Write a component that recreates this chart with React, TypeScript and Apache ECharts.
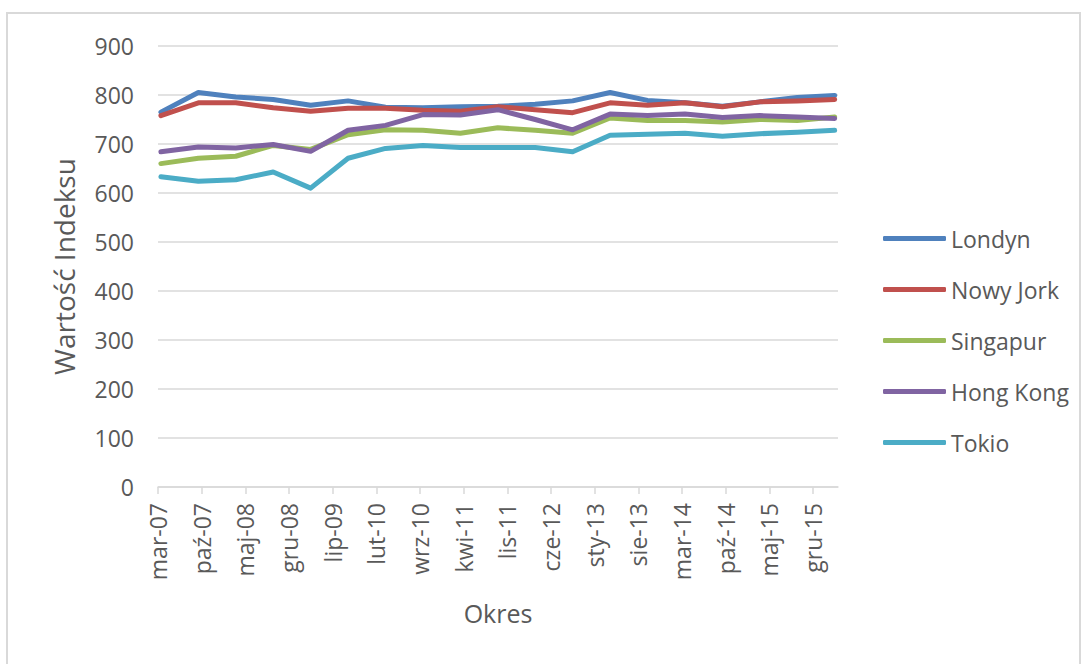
import React, { useEffect, useRef } from "react";
import * as echarts from "echarts";

// GFCI survey dates (semi-annual)
const surveyDates = [
  "2007-03-15", "2007-09-15", "2008-03-15", "2008-09-15", "2009-03-15",
  "2009-09-15", "2010-03-15", "2010-09-15", "2011-03-15", "2011-09-15",
  "2012-03-15", "2012-09-15", "2013-03-15", "2013-09-15", "2014-03-15",
  "2014-09-15", "2015-03-15", "2015-09-15", "2016-03-15",
];

const londyn = [765, 805, 796, 791, 779, 788, 775, 774, 776, 777, 781, 788, 805, 789, 784, 777, 786, 795, 799];
const nowyJork = [758, 784, 784, 774, 767, 773, 773, 769, 767, 776, 770, 764, 784, 779, 784, 776, 786, 788, 791];
const singapur = [660, 671, 675, 697, 689, 719, 729, 728, 722, 733, 728, 722, 753, 748, 748, 745, 750, 748, 755];
const hongKong = [684, 694, 692, 699, 685, 728, 738, 760, 759, 770, 750, 729, 761, 758, 761, 754, 758, 755, 752];
const tokio = [633, 624, 627, 643, 610, 671, 691, 697, 693, 693, 693, 684, 718, 720, 722, 716, 721, 724, 728];

const tickLabels = [
  "mar-07", "paź-07", "maj-08", "gru-08", "lip-09", "lut-10", "wrz-10", "kwi-11",
  "lis-11", "cze-12", "sty-13", "sie-13", "mar-14", "paź-14", "maj-15", "gru-15",
];
const tickStepMonths = 7;
const axisMaxMonths = 109; // axis runs from mar-07 to ~kwi-16

const seriesNames = ["Londyn", "Nowy Jork", "Singapur", "Hong Kong", "Tokio"];
const seriesColors = ["#4F81BD", "#C0504D", "#9BBB59", "#8064A2", "#4BACC6"];

function monthOffset(d: string): number {
  const [y, m, day] = d.split("-").map(Number);
  return (y - 2007) * 12 + (m - 3) + (day - 1) / 30;
}

export default function App() {
  const ref = useRef<HTMLDivElement>(null);

  useEffect(() => {
    const chart = echarts.init(ref.current!, null, { renderer: "svg" });
    const font = "'Open Sans', sans-serif";
    const xs = surveyDates.map(monthOffset);
    const allValues = [londyn, nowyJork, singapur, hongKong, tokio];
    const tickVals = tickLabels.map((_, i) => i * tickStepMonths);

    const series = allValues.map((vals, k) => ({
      name: seriesNames[k],
      type: "line",
      data: vals.map((v, i) => [xs[i], v]),
      symbol: "none",
      showSymbol: false,
      lineStyle: { color: seriesColors[k], width: 5, cap: "round", join: "round" },
      itemStyle: { color: seriesColors[k] },
      emphasis: { disabled: true },
    }));

    chart.setOption({
      animation: false,
      backgroundColor: "#ffffff",
      textStyle: { fontFamily: font },
      graphic: [
        {
          type: "rect",
          silent: true,
          z: -10,
          shape: { x: 7, y: 13, width: 1073, height: 700 },
          style: { fill: "none", stroke: "#d9d9d9", lineWidth: 2 },
        },
      ],
      grid: { left: 158, top: 46, width: 680, height: 441 },
      legend: {
        orient: "vertical",
        left: 883,
        top: 226,
        padding: 0,
        icon: "roundRect",
        itemWidth: 63,
        itemHeight: 5,
        itemGap: 26,
        data: seriesNames,
        textStyle: { fontFamily: font, fontSize: 23, lineHeight: 25, color: "#595959" },
      },
      xAxis: {
        type: "value",
        min: 0,
        max: axisMaxMonths,
        name: "Okres",
        nameLocation: "middle",
        nameGap: 113,
        nameTextStyle: { fontFamily: font, fontSize: 25, color: "#595959" },
        axisLine: { show: true, onZero: false, lineStyle: { color: "#d9d9d9", width: 1.5 } },
        axisTick: { show: true, customValues: tickVals, length: 7, lineStyle: { color: "#d9d9d9", width: 1.5 } },
        axisLabel: {
          customValues: tickVals,
          rotate: 90,
          margin: 16,
          padding: [16, 0, 0, 0],
          fontFamily: font,
          fontSize: 23,
          color: "#595959",
          formatter: (v: number) => tickLabels[Math.round(v / tickStepMonths)] ?? "",
        },
        splitLine: { show: false },
      },
      yAxis: {
        type: "value",
        min: 0,
        max: 900,
        interval: 100,
        name: "Wartość Indeksu",
        nameLocation: "middle",
        nameGap: 80,
        nameTextStyle: { fontFamily: font, fontSize: 28, color: "#595959" },
        axisLine: { show: false },
        axisTick: { show: false },
        axisLabel: { margin: 24, fontFamily: font, fontSize: 23, color: "#595959" },
        splitLine: { lineStyle: { color: "#d9d9d9", width: 1.5 } },
      },
      series,
    });

    return () => chart.dispose();
  }, []);

  return (
    <div
      ref={ref}
      style={{ position: "fixed", left: 0, top: 0, width: 1088, height: 664, background: "#fff" }}
    />
  );
}
